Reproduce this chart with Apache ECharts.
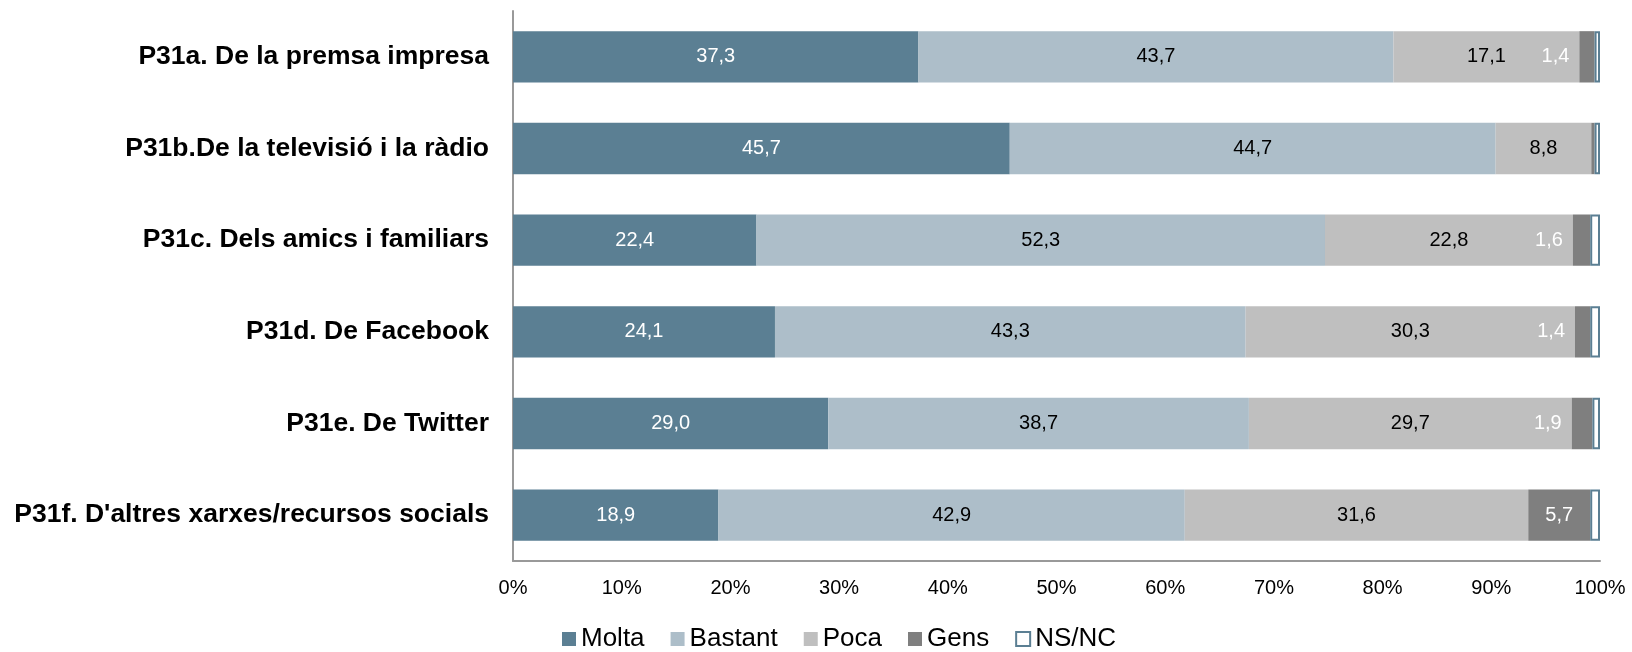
<!DOCTYPE html>
<html><head><meta charset="utf-8">
<script src="https://cdn.jsdelivr.net/npm/echarts@6/dist/echarts.min.js"></script>
<style>html,body{margin:0;padding:0;background:#fff}#c{width:1632px;height:652px}</style>
</head><body><div id="c"></div>
<script>
const categories = [
  "P31a. De la premsa impresa",
  "P31b.De la televisió i la ràdio",
  "P31c. Dels amics i familiars",
  "P31d. De Facebook",
  "P31e. De Twitter",
  "P31f. D'altres xarxes/recursos socials"
];
const molta   = [37.3, 45.7, 22.4, 24.1, 29.0, 18.9];
const bastant = [43.7, 44.7, 52.3, 43.3, 38.7, 42.9];
const poca    = [17.1,  8.8, 22.8, 30.3, 29.7, 31.6];
const gens    = [ 1.4,  0.3,  1.6,  1.4,  1.9,  5.7];
const nsnc    = [ 0.5,  0.5,  0.9,  0.9,  0.7,  0.9];
const xTicks  = [0, 10, 20, 30, 40, 50, 60, 70, 80, 90, 100];

const fmt = v => v.toFixed(1).replace('.', ',');
const font = '"Liberation Sans", Arial, sans-serif';

function labelled(arr, color, mode) {
  return arr.map(v => {
    const item = { value: v };
    if (mode === 'gens') {
      if (v < 1) item.label = { show: false };
      else if (v < 3) item.label = { show: true, position: 'left', distance: 10, color: color };
    }
    return item;
  });
}

function series(name, arr, color, labelColor, mode, extra) {
  return Object.assign({
    name: name, type: 'bar', stack: 'all', barCategoryGap: '44%',
    data: labelled(arr, labelColor, mode),
    itemStyle: { color: color },
    label: {
      show: mode !== 'none', position: 'inside', color: labelColor,
      fontFamily: font, fontSize: 20,
      formatter: p => fmt(p.value)
    },
    emphasis: { disabled: true }
  }, extra || {});
}

const chart = echarts.init(document.getElementById('c'));
chart.setOption({
  animation: false,
  backgroundColor: '#fff',
  grid: { left: 513, right: 32, top: 11, bottom: 91 },
  legend: {
    top: 621, left: 557, itemWidth: 14, itemHeight: 14, itemGap: 26,
    textStyle: { fontFamily: font, fontSize: 26, color: '#000' },
    data: [
      { name: 'Molta', icon: 'rect' },
      { name: 'Bastant', icon: 'rect' },
      { name: 'Poca', icon: 'rect' },
      { name: 'Gens', icon: 'rect' },
      { name: 'NS/NC', icon: 'rect' }
    ]
  },
  xAxis: {
    type: 'value', min: 0, max: 100, interval: 10,
    axisLine: { show: true, lineStyle: { color: '#999', width: 2 } },
    axisTick: { show: false },
    splitLine: { show: false },
    axisLabel: {
      color: '#000', fontFamily: font, fontSize: 20, margin: 17,
      formatter: v => (xTicks.includes(v) ? v + '%' : '')
    }
  },
  yAxis: {
    type: 'category', data: categories, inverse: true,
    axisLine: { show: true, lineStyle: { color: '#999', width: 2 } },
    axisTick: { show: false },
    axisLabel: {
      color: '#000', fontFamily: font, fontSize: 26.5, fontWeight: 'bold', margin: 24
    }
  },
  series: [
    series('Molta', molta, '#5B7F93', '#fff', 'normal'),
    series('Bastant', bastant, '#ADBEC9', '#000', 'normal'),
    series('Poca', poca, '#BFBFBF', '#000', 'normal'),
    series('Gens', gens, '#7F7F7F', '#fff', 'gens'),
    series('NS/NC', nsnc, '#fff', '#000', 'none', {
      itemStyle: { color: '#fff', borderColor: '#5B7F93', borderWidth: 2 }
    })
  ]
});
</script></body></html>
